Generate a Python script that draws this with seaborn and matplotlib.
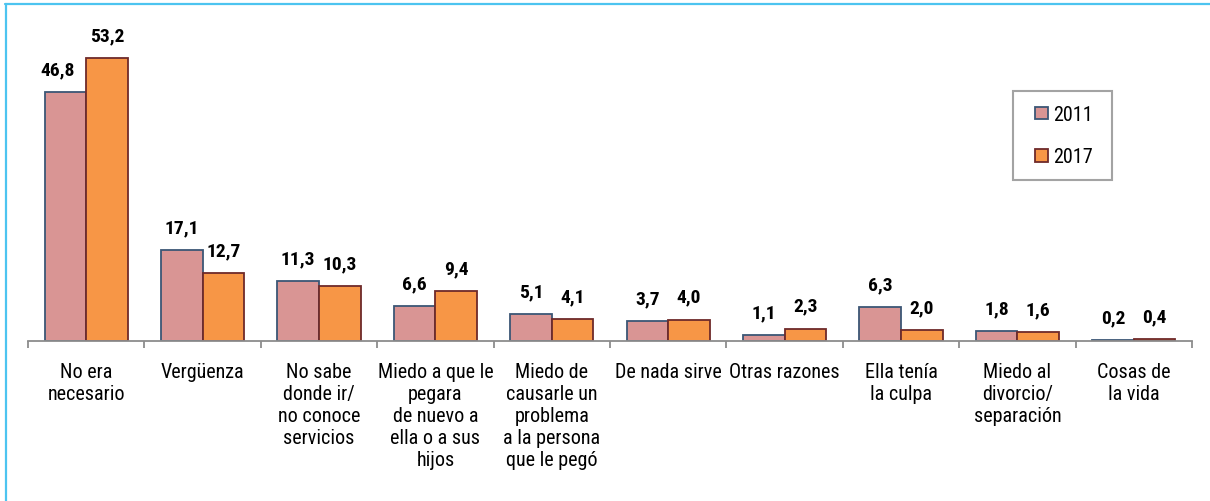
import matplotlib
matplotlib.use("Agg")
import matplotlib.pyplot as plt
from matplotlib.patches import Patch, Rectangle
from matplotlib.legend_handler import HandlerPatch
from matplotlib.lines import Line2D
import seaborn as sns
import pandas as pd

# Reasons given for not seeking help, percentage by survey year
categories = [
    "No era\nnecesario",
    "Vergüenza",
    "No sabe\ndonde ir/\nno conoce\nservicios",
    "Miedo a que le\npegara\nde nuevo a\nella o a sus\nhijos",
    "Miedo de\ncausarle un\nproblema\na la persona\nque le pegó",
    "De nada sirve",
    "Otras razones",
    "Ella tenía\nla culpa",
    "Miedo al\ndivorcio/\nseparación",
    "Cosas de\nla vida",
]
values_2011 = [46.8, 17.1, 11.3, 6.6, 5.1, 3.7, 1.1, 6.3, 1.8, 0.2]
values_2017 = [53.2, 12.7, 10.3, 9.4, 4.1, 4.0, 2.3, 2.0, 1.6, 0.4]
years = ["2011", "2017"]

face_colors = {"2011": "#D99594", "2017": "#F79646"}
edge_colors = {"2011": "#3B5675", "2017": "#6E2A2A"}

df = pd.DataFrame({
    "categoria": categories * 2,
    "anio": [years[0]] * len(categories) + [years[1]] * len(categories),
    "valor": values_2011 + values_2017,
})

sns.set_theme(style="white")
plt.rcParams["font.family"] = ["Roboto Condensed", "Archivo Narrow", "DejaVu Sans"]

W, H = 1210, 502
fig = plt.figure(figsize=(W / 100, H / 100), dpi=100)
fig.patch.set_facecolor("white")

ax_left, ax_right, ax_bottom, ax_top = 28, 1192, 342, 20
ax = fig.add_axes([ax_left / W, 1 - ax_bottom / H,
                   (ax_right - ax_left) / W, (ax_bottom - ax_top) / H])

sns.barplot(data=df, x="categoria", y="valor", hue="anio", order=categories,
            hue_order=years, palette=face_colors, width=0.714, saturation=1,
            ax=ax, legend=False)

for cont, yr in zip(ax.containers, years):
    for bar in cont:
        bar.set_edgecolor(edge_colors[yr])
        bar.set_linewidth(1.3)
    labels = [f"{b.get_height():.1f}".replace(".", ",") for b in cont]
    anns = ax.bar_label(cont, labels=labels, padding=10, fontsize=14,
                        fontweight="bold", color="black")
    if yr == years[0]:
        # nudge the tallest pair's left label away from its neighbour
        anns[0].xyann = (-6, anns[0].xyann[1])

ax.set_xlim(-0.5, len(categories) - 0.5)
ax.set_ylim(0, 60.5)
ax.set_xlabel("")
ax.set_ylabel("")
ax.set_yticks([])
for side in ["top", "right", "left"]:
    ax.spines[side].set_visible(False)
ax.spines["bottom"].set_color("#8C8C8C")
ax.spines["bottom"].set_linewidth(1.3)

# labels at category centres, tick marks at category boundaries
ax.set_xticks(range(len(categories)))
ax.set_xticklabels(categories, fontsize=14.5, linespacing=1.21, va="top")
ax.tick_params(axis="x", which="major", length=0, pad=15, colors="black")
ax.set_xticks([i - 0.5 for i in range(len(categories) + 1)], minor=True)
ax.tick_params(axis="x", which="minor", length=5, width=1.3,
               color="#8C8C8C", direction="out", bottom=True)


def square_handle(legend, orig_handle, xdescent, ydescent, width, height, fontsize):
    s = height
    return Rectangle((-xdescent + width - s, -ydescent), s, s)


handles = [Patch(facecolor=face_colors[y], edgecolor=edge_colors[y],
                 linewidth=1.3, label=y) for y in years]
leg = fig.legend(handles=handles, loc="upper left",
                 bbox_to_anchor=(1013 / W, 1 - 178 / H, 99 / W, 86 / H),
                 mode="expand", borderaxespad=0,
                 fontsize=14.5, frameon=True, fancybox=False, shadow=False,
                 handlelength=1.05, handleheight=0.6, handletextpad=0.25,
                 borderpad=0.7, labelspacing=1.15,
                 handler_map={Patch: HandlerPatch(patch_func=square_handle)})
leg.get_frame().set_edgecolor("#8C8C8C")
leg.get_frame().set_linewidth(1.5)
for t in leg.get_texts():
    t.set_color("black")

# light blue frame around the chart area
frame_color = "#4CC4F0"
fig.add_artist(Line2D([5 / W, 1], [1 - 4.7 / H, 1 - 4.7 / H],
                      transform=fig.transFigure, color=frame_color, lw=1.6))
fig.add_artist(Line2D([5.7 / W, 5.7 / W], [0, 1 - 4.7 / H],
                      transform=fig.transFigure, color=frame_color, lw=1.6))

fig.savefig("out.png", dpi=100, facecolor="white")
